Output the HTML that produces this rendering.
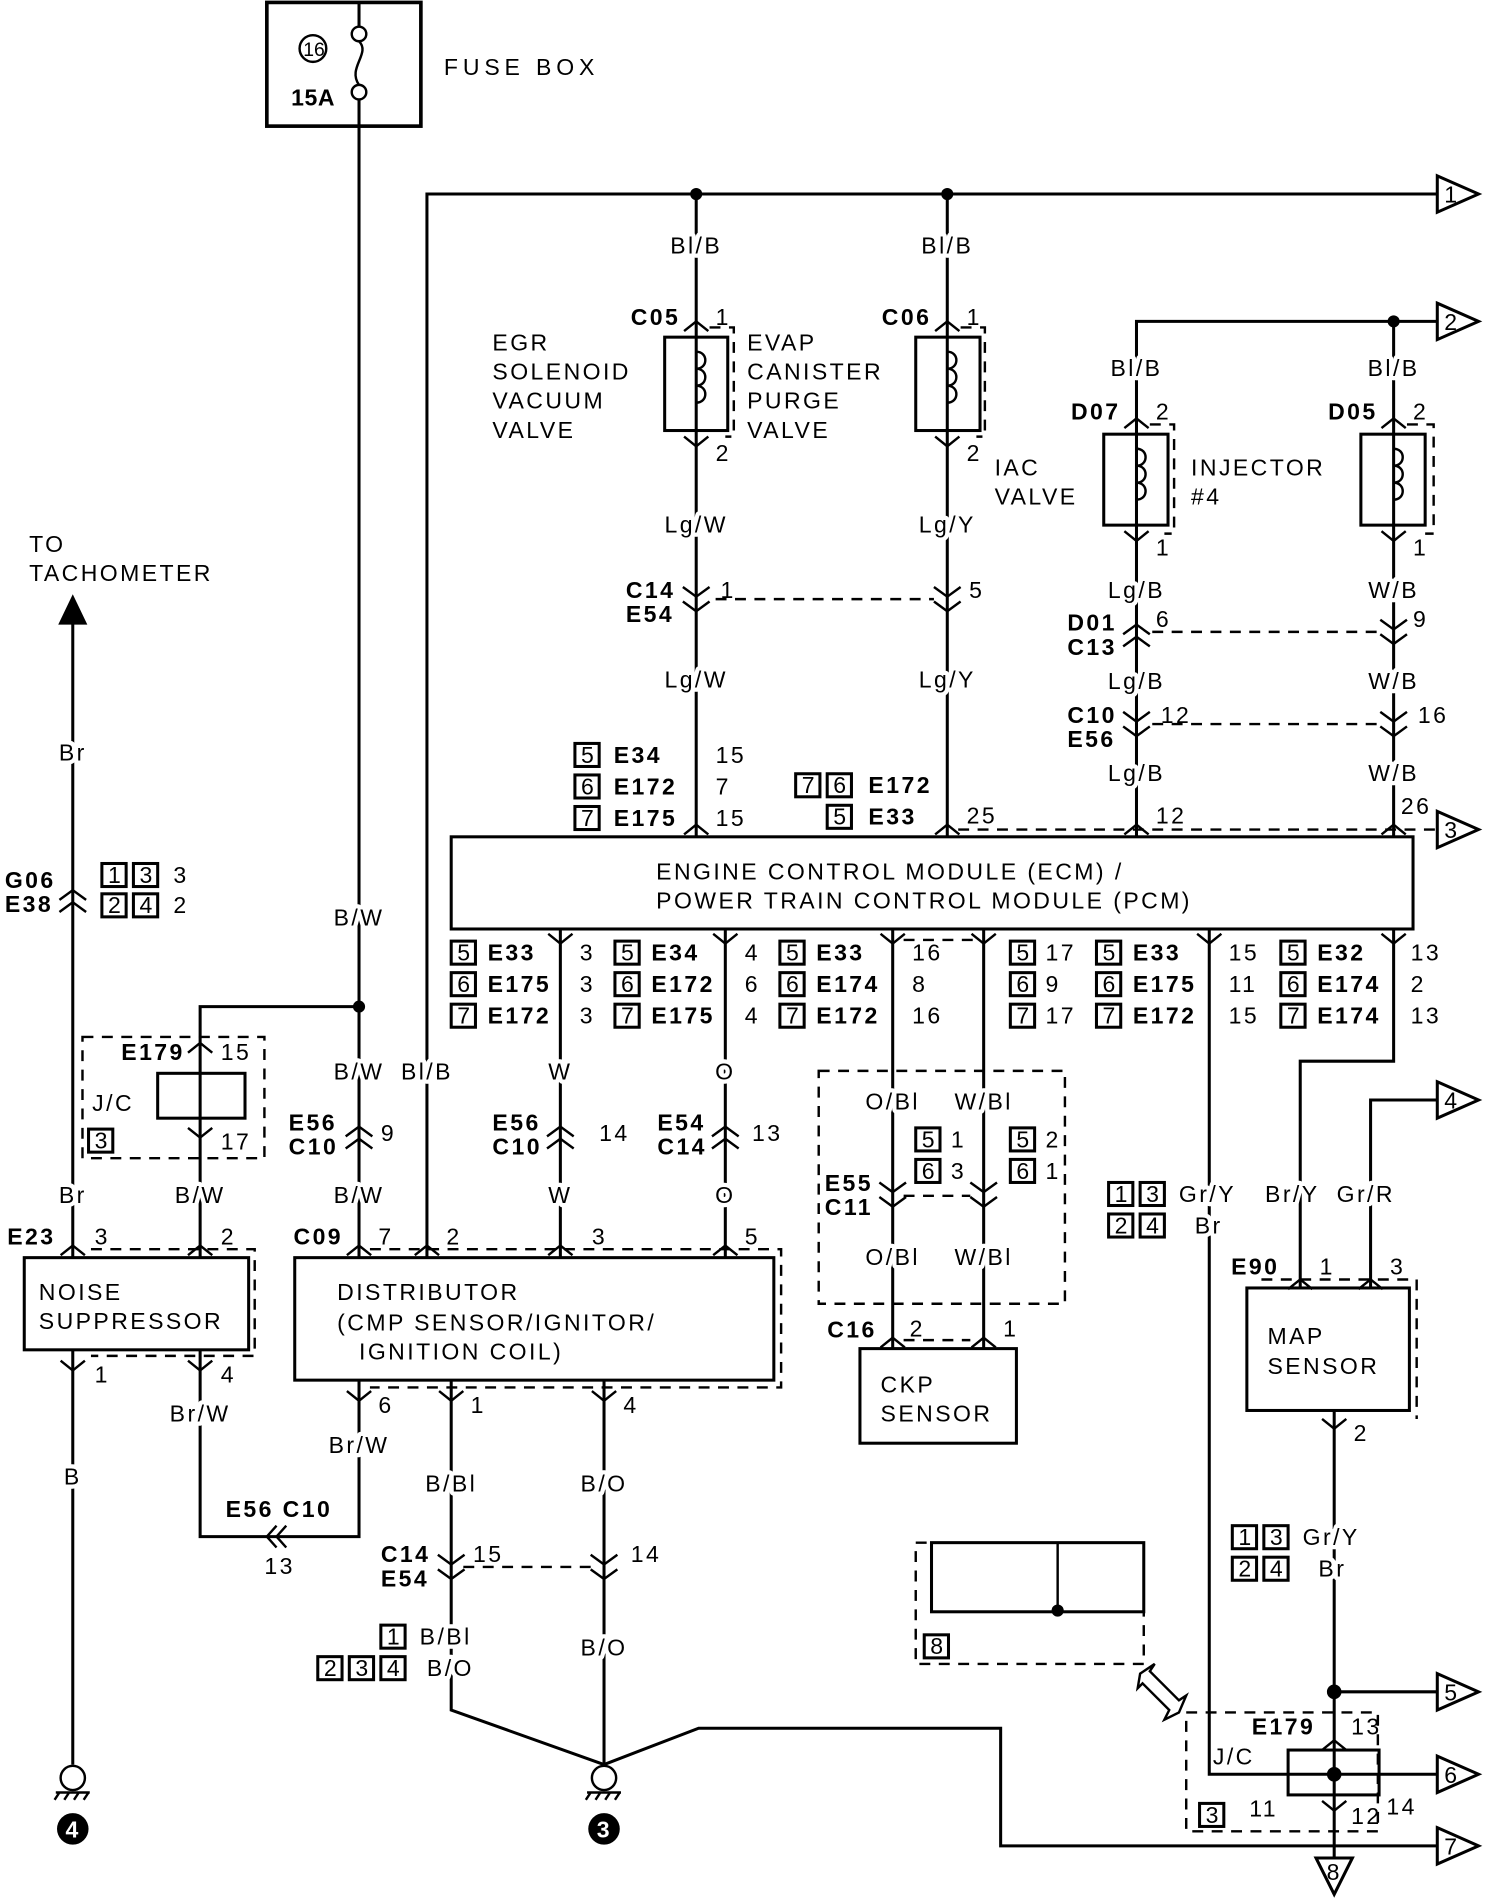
<!DOCTYPE html>
<html><head><meta charset="utf-8"><style>
html,body{margin:0;padding:0;background:#fff;width:1504px;height:1898px;overflow:hidden}
svg{display:block}
text{font-family:"Liberation Sans",sans-serif;font-size:19px;letter-spacing:2px;fill:#000}
.b{font-weight:bold;letter-spacing:0.5px}
.s{font-size:17px}
.w text{paint-order:stroke;stroke:#fff;stroke-width:7px;stroke-linejoin:round}
.bx rect{fill:none;stroke:#000;stroke-width:2.5}
</style></head><body>
<svg width="1504" height="1898" viewBox="0 0 1240 1565" preserveAspectRatio="none">
<defs>
<path id="up" d="M-10,8 L0,0 L10,8" fill="none" stroke="#000" stroke-width="2"/>
<path id="dn" d="M-10,-8 L0,0 L10,-8" fill="none" stroke="#000" stroke-width="2"/>
<g id="dd"><path d="M-11,-10 L0,-2 L11,-10 M-11,2 L0,10 L11,2" fill="none" stroke="#000" stroke-width="2"/></g>
<g id="uu"><path d="M-11,2 L0,-6 L11,2 M-11,12 L0,4 L11,12" fill="none" stroke="#000" stroke-width="2"/></g>
<g id="arR"><path d="M0,-15 L34,0 L0,15 Z" fill="#fff" stroke="#000" stroke-width="2.5"/></g>
</defs>
<g fill="none" stroke="#000" stroke-width="2.5">
<rect x="220" y="2" width="127" height="102" stroke-width="3"/>
<line x1="296" y1="2" x2="296" y2="22"/>
<circle cx="296" cy="28" r="6" stroke-width="2"/>
<circle cx="296" cy="76" r="6" stroke-width="2"/>
<path d="M296,34 C306,44 286,56 296,70" stroke-width="2"/>
<circle cx="258" cy="40" r="11" stroke-width="2"/>
<line x1="296" y1="82" x2="296" y2="1037"/>
<polyline points="352,1037 352,160 1185,160"/>
<line x1="574" y1="160" x2="574" y2="690"/>
<line x1="781" y1="160" x2="781" y2="690"/>
<rect x="548" y="278" width="52" height="77"/>
<rect x="755" y="278" width="53" height="77"/>
<path d="M574,290 c10,0 10,14 0,14 c10,0 10,14 0,14 c10,0 10,14 0,14" stroke-width="2"/>
<path d="M781,290 c10,0 10,14 0,14 c10,0 10,14 0,14 c10,0 10,14 0,14" stroke-width="2"/>
<polyline points="937,690 937,265 1185,265"/>
<line x1="1149" y1="265" x2="1149" y2="690"/>
<rect x="910" y="358" width="53" height="75"/>
<rect x="1122" y="358" width="53" height="75"/>
<path d="M937,370 c10,0 10,14 0,14 c10,0 10,14 0,14 c10,0 10,14 0,14" stroke-width="2"/>
<path d="M1149,370 c10,0 10,14 0,14 c10,0 10,14 0,14 c10,0 10,14 0,14" stroke-width="2"/>
<rect x="372" y="690" width="793" height="76"/>
<line x1="462" y1="766" x2="462" y2="1037"/>
<line x1="598" y1="766" x2="598" y2="1037"/>
<line x1="736" y1="766" x2="736" y2="1112"/>
<line x1="811" y1="766" x2="811" y2="1112"/>
<polyline points="997,766 997,1463 1185,1463"/>
<polyline points="1149,766 1149,875 1072,875 1072,1062"/>
<polyline points="1185,907 1130,907 1130,1062"/>
<rect x="1028" y="1062" width="134" height="101"/>
<line x1="1100" y1="1163" x2="1100" y2="1532"/>
<line x1="1100" y1="1395" x2="1185" y2="1395"/>
<rect x="1062" y="1443" width="75" height="37"/>
<rect x="709" y="1112" width="129" height="78"/>
<line x1="60" y1="512" x2="60" y2="1037"/>
<polyline points="165,1037 165,830 296,830"/>
<rect x="130" y="885" width="72" height="37"/>
<rect x="20" y="1037" width="185" height="76"/>
<line x1="60" y1="1113" x2="60" y2="1455"/>
<polyline points="165,1113 165,1267 296,1267 296,1138"/>
<rect x="243" y="1037" width="395" height="101"/>
<polyline points="372,1138 372,1410 498,1455"/>
<line x1="498" y1="1138" x2="498" y2="1455"/>
<polyline points="498,1455 576,1425 825,1425 825,1522 1185,1522"/>
<circle cx="60" cy="1466" r="10" stroke-width="2"/>
<circle cx="498" cy="1466" r="10" stroke-width="2"/>
<path d="M46,1478 L74,1478 M49,1478 l-4,6 M57,1478 l-4,6 M65,1478 l-4,6 M73,1478 l-4,6" stroke-width="2"/>
<path d="M484,1478 L512,1478 M487,1478 l-4,6 M495,1478 l-4,6 M503,1478 l-4,6 M511,1478 l-4,6" stroke-width="2"/>
<rect x="768" y="1272" width="175" height="57"/>
<line x1="872" y1="1272" x2="872" y2="1329" stroke-width="2"/>
<path d="M940,1380 L952,1372 L948,1378 L972,1402 L978,1398 L972,1412 L960,1418 L964,1410 L942,1388 L938,1392 Z" stroke-width="2" fill="#fff"/>
</g>
<g fill="none" stroke="#000" stroke-width="2" stroke-dasharray="9,7">
<line x1="590" y1="494" x2="770" y2="494"/>
<line x1="950" y1="521" x2="1138" y2="521"/>
<line x1="950" y1="597" x2="1138" y2="597"/>
<line x1="790" y1="684" x2="1185" y2="684"/>
<polyline points="585,270 605,270 605,360 598,360"/>
<polyline points="792,270 812,270 812,360 805,360"/>
<polyline points="948,350 968,350 968,440 960,440"/>
<polyline points="1160,350 1182,350 1182,440 1175,440"/>
<rect x="68" y="855" width="150" height="100"/>
<polyline points="75,1030 210,1030 210,1118 75,1118"/>
<polyline points="305,1030 644,1030 644,1144 305,1144"/>
<rect x="675" y="883" width="203" height="192"/>
<line x1="745" y1="986" x2="800" y2="986"/>
<line x1="745" y1="1105" x2="800" y2="1105"/>
<polyline points="1040,1055 1168,1055 1168,1170"/>
<rect x="978" y="1412" width="158" height="98"/>
<rect x="755" y="1272" width="188" height="100"/>
<line x1="382" y1="1292" x2="490" y2="1292"/>
<line x1="745" y1="775" x2="805" y2="775"/>
</g>
<g fill="#000">
<circle cx="574" cy="160" r="5"/><circle cx="781" cy="160" r="5"/>
<circle cx="1149" cy="265" r="5"/><circle cx="296" cy="830" r="5"/>
<circle cx="872" cy="1328" r="5"/><circle cx="1100" cy="1395" r="6"/><circle cx="1100" cy="1463" r="6"/>
<path d="M60,490 L48,515 L72,515 Z"/>
</g>
<use href="#up" x="574" y="265"/><use href="#up" x="781" y="265"/>
<use href="#dn" x="574" y="368"/><use href="#dn" x="781" y="368"/>
<use href="#up" x="937" y="345"/><use href="#up" x="1149" y="345"/>
<use href="#dn" x="937" y="446"/><use href="#dn" x="1149" y="446"/>
<use href="#dd" x="574" y="494"/><use href="#dd" x="781" y="494"/>
<use href="#uu" x="937" y="521"/><use href="#dd" x="1149" y="521"/>
<use href="#dd" x="937" y="597"/><use href="#dd" x="1149" y="597"/>
<use href="#up" x="574" y="680"/><use href="#up" x="781" y="680"/><use href="#up" x="937" y="680"/><use href="#up" x="1149" y="680"/>
<use href="#dn" x="462" y="778"/><use href="#dn" x="598" y="778"/><use href="#dn" x="736" y="778"/><use href="#dn" x="811" y="778"/><use href="#dn" x="997" y="778"/><use href="#dn" x="1149" y="778"/>
<use href="#uu" x="296" y="935"/><use href="#uu" x="462" y="935"/><use href="#uu" x="598" y="935"/>
<use href="#dd" x="736" y="985"/><use href="#dd" x="811" y="985"/>
<use href="#up" x="736" y="1103"/><use href="#up" x="811" y="1103"/>
<use href="#up" x="165" y="860"/><use href="#dn" x="165" y="938"/>
<use href="#up" x="60" y="1027"/><use href="#up" x="165" y="1027"/>
<use href="#up" x="296" y="1027"/><use href="#up" x="352" y="1027"/><use href="#up" x="462" y="1027"/><use href="#up" x="598" y="1027"/>
<use href="#uu" x="60" y="740"/>
<use href="#dn" x="60" y="1130"/><use href="#dn" x="165" y="1130"/>
<use href="#dn" x="296" y="1155"/><use href="#dn" x="372" y="1155"/><use href="#dn" x="498" y="1155"/>
<use href="#dd" x="372" y="1292"/><use href="#dd" x="498" y="1292"/>
<use href="#up" x="1072" y="1055"/><use href="#up" x="1130" y="1055"/><use href="#dn" x="1100" y="1178"/>
<use href="#up" x="1100" y="1435"/><use href="#dn" x="1100" y="1493"/>
<path d="M228,1258 L220,1267 L228,1276 M236,1258 L228,1267 L236,1276" fill="none" stroke="#000" stroke-width="2"/>
<use href="#arR" x="1185" y="160"/><use href="#arR" x="1185" y="265"/><use href="#arR" x="1185" y="684"/>
<use href="#arR" x="1185" y="907"/><use href="#arR" x="1185" y="1395"/><use href="#arR" x="1185" y="1463"/><use href="#arR" x="1185" y="1522"/>
<path d="M1085,1532 L1115,1532 L1100,1562 Z" fill="#fff" stroke="#000" stroke-width="2.5"/>
<g text-anchor="middle" class="s">
<text x="1197" y="167">1</text><text x="1197" y="272">2</text><text x="1197" y="691">3</text><text x="1197" y="914">4</text>
<text x="1197" y="1402">5</text><text x="1197" y="1470">6</text><text x="1197" y="1529">7</text><text x="1100" y="1550">8</text>
</g>
<circle cx="60" cy="1508" r="13" fill="#000"/><circle cx="498" cy="1508" r="13" fill="#000"/>
<text x="54" y="1515" style="fill:#fff;font-weight:bold;font-size:19px;letter-spacing:0">4</text>
<text x="492" y="1515" style="fill:#fff;font-weight:bold;font-size:19px;letter-spacing:0">3</text>
<text x="250" y="46" style="letter-spacing:0;font-size:16px">16</text>
<text x="240" y="87" class="b">15A</text>
<text x="366" y="62" style="letter-spacing:4px">FUSE BOX</text>
<g text-anchor="middle" class="w">
<text x="574" y="209">Bl/B</text><text x="781" y="209">Bl/B</text>
<text x="574" y="439">Lg/W</text><text x="781" y="439">Lg/Y</text>
<text x="574" y="567">Lg/W</text><text x="781" y="567">Lg/Y</text>
<text x="937" y="310">Bl/B</text><text x="1149" y="310">Bl/B</text>
<text x="937" y="493">Lg/B</text><text x="1149" y="493">W/B</text>
<text x="937" y="568">Lg/B</text><text x="1149" y="568">W/B</text>
<text x="937" y="644">Lg/B</text><text x="1149" y="644">W/B</text>
<text x="60" y="627">Br</text><text x="296" y="763">B/W</text>
<text x="296" y="890">B/W</text><text x="352" y="890">Bl/B</text><text x="462" y="890">W</text><text x="598" y="890">O</text>
<text x="296" y="992">B/W</text><text x="462" y="992">W</text><text x="598" y="992">O</text>
<text x="60" y="992">Br</text><text x="165" y="992">B/W</text>
<text x="60" y="1224">B</text><text x="165" y="1172">Br/W</text><text x="296" y="1198">Br/W</text>
<text x="372" y="1230">B/Bl</text><text x="498" y="1230">B/O</text><text x="498" y="1365">B/O</text>
<text x="736" y="915">O/Bl</text><text x="811" y="915">W/Bl</text>
<text x="736" y="1043">O/Bl</text><text x="811" y="1043">W/Bl</text>
</g>
<text x="406" y="289">EGR</text><text x="406" y="313">SOLENOID</text><text x="406" y="337">VACUUM</text><text x="406" y="361">VALVE</text>
<text x="616" y="289">EVAP</text><text x="616" y="313">CANISTER</text><text x="616" y="337">PURGE</text><text x="616" y="361">VALVE</text>
<text x="820" y="392">IAC</text><text x="820" y="416">VALVE</text>
<text x="982" y="392">INJECTOR</text><text x="982" y="416">#4</text>
<text x="24" y="455">TO</text><text x="24" y="479">TACHOMETER</text>
<text x="541" y="725">ENGINE CONTROL MODULE (ECM) /</text>
<text x="541" y="749">POWER TRAIN CONTROL MODULE (PCM)</text>
<text x="32" y="1072">NOISE</text><text x="32" y="1096">SUPPRESSOR</text>
<text x="278" y="1072">DISTRIBUTOR</text><text x="278" y="1097">(CMP SENSOR/IGNITOR/</text><text x="296" y="1121">IGNITION COIL)</text>
<text x="726" y="1148">CKP</text><text x="726" y="1172">SENSOR</text>
<text x="1045" y="1108">MAP</text><text x="1045" y="1133">SENSOR</text>
<text x="76" y="916">J/C</text><text x="1000" y="1455">J/C</text>
<g class="b">
<text x="520" y="268">C05</text><text x="727" y="268">C06</text>
<text x="883" y="346">D07</text><text x="1095" y="346">D05</text>
<text x="516" y="493">C14</text><text x="516" y="513">E54</text>
<text x="880" y="520">D01</text><text x="880" y="540">C13</text>
<text x="880" y="596">C10</text><text x="880" y="616">E56</text>
<text x="4" y="732">G06</text><text x="4" y="752">E38</text>
<text x="100" y="874">E179</text>
<text x="238" y="932">E56</text><text x="238" y="952">C10</text>
<text x="406" y="932">E56</text><text x="406" y="952">C10</text>
<text x="542" y="932">E54</text><text x="542" y="952">C14</text>
<text x="680" y="982">E55</text><text x="680" y="1002">C11</text>
<text x="6" y="1026">E23</text><text x="242" y="1026">C09</text>
<text x="682" y="1103">C16</text><text x="1015" y="1051">E90</text>
<text x="186" y="1251">E56 C10</text>
<text x="314" y="1288">C14</text><text x="314" y="1308">E54</text>
<text x="1032" y="1430">E179</text>
<text x="506" y="629">E34</text><text x="506" y="655">E172</text><text x="506" y="681">E175</text>
<text x="716" y="654">E172</text><text x="716" y="680">E33</text>
<text x="402" y="792">E33</text><text x="402" y="818">E175</text><text x="402" y="844">E172</text>
<text x="537" y="792">E34</text><text x="537" y="818">E172</text><text x="537" y="844">E175</text>
<text x="673" y="792">E33</text><text x="673" y="818">E174</text><text x="673" y="844">E172</text>
<text x="934" y="792">E33</text><text x="934" y="818">E175</text><text x="934" y="844">E172</text>
<text x="1086" y="792">E32</text><text x="1086" y="818">E174</text><text x="1086" y="844">E174</text>
</g>
<g class="s">
<text x="590" y="268">1</text><text x="797" y="268">1</text><text x="590" y="380">2</text><text x="797" y="380">2</text>
<text x="953" y="346">2</text><text x="1165" y="346">2</text><text x="953" y="458">1</text><text x="1165" y="458">1</text>
<text x="594" y="493">1</text><text x="799" y="493">5</text><text x="953" y="517">6</text><text x="1165" y="517">9</text>
<text x="957" y="596">12</text><text x="1169" y="596">16</text>
<text x="590" y="629">15</text><text x="590" y="655">7</text><text x="590" y="681">15</text>
<text x="797" y="679">25</text><text x="953" y="679">12</text><text x="1155" y="671">26</text>
<text x="478" y="792">3</text><text x="478" y="818">3</text><text x="478" y="844">3</text>
<text x="614" y="792">4</text><text x="614" y="818">6</text><text x="614" y="844">4</text>
<text x="752" y="792">16</text><text x="752" y="818">8</text><text x="752" y="844">16</text>
<text x="862" y="792">17</text><text x="862" y="818">9</text><text x="862" y="844">17</text>
<text x="1013" y="792">15</text><text x="1013" y="818">11</text><text x="1013" y="844">15</text>
<text x="1163" y="792">13</text><text x="1163" y="818">2</text><text x="1163" y="844">13</text>
<text x="143" y="728">3</text><text x="143" y="753">2</text>
<text x="182" y="874">15</text><text x="182" y="948">17</text>
<text x="314" y="941">9</text><text x="494" y="941">14</text><text x="620" y="941">13</text>
<text x="78" y="1026">3</text><text x="182" y="1026">2</text>
<text x="312" y="1026">7</text><text x="368" y="1026">2</text><text x="488" y="1026">3</text><text x="614" y="1026">5</text>
<text x="78" y="1140">1</text><text x="182" y="1140">4</text>
<text x="312" y="1165">6</text><text x="388" y="1165">1</text><text x="514" y="1165">4</text>
<text x="218" y="1298">13</text><text x="390" y="1288">15</text><text x="520" y="1288">14</text>
<text x="784" y="946">1</text><text x="784" y="972">3</text><text x="862" y="946">2</text><text x="862" y="972">1</text>
<text x="750" y="1102">2</text><text x="827" y="1102">1</text>
<text x="1088" y="1051">1</text><text x="1146" y="1051">3</text><text x="1116" y="1188">2</text>
<text x="1114" y="1430">13</text><text x="1030" y="1498">11</text><text x="1114" y="1504">12</text><text x="1143" y="1496">14</text>
</g>
<g class="bx">
<rect x="474" y="613" width="20" height="19"/><rect x="474" y="639" width="20" height="19"/><rect x="474" y="665" width="20" height="19"/>
<rect x="656" y="638" width="20" height="19"/><rect x="682" y="638" width="20" height="19"/><rect x="682" y="664" width="20" height="19"/>
<rect x="84" y="712" width="20" height="19"/><rect x="110" y="712" width="20" height="19"/><rect x="84" y="737" width="20" height="19"/><rect x="110" y="737" width="20" height="19"/>
<rect x="372" y="776" width="20" height="19"/><rect x="372" y="802" width="20" height="19"/><rect x="372" y="828" width="20" height="19"/>
<rect x="507" y="776" width="20" height="19"/><rect x="507" y="802" width="20" height="19"/><rect x="507" y="828" width="20" height="19"/>
<rect x="643" y="776" width="20" height="19"/><rect x="643" y="802" width="20" height="19"/><rect x="643" y="828" width="20" height="19"/>
<rect x="833" y="776" width="20" height="19"/><rect x="833" y="802" width="20" height="19"/><rect x="833" y="828" width="20" height="19"/>
<rect x="904" y="776" width="20" height="19"/><rect x="904" y="802" width="20" height="19"/><rect x="904" y="828" width="20" height="19"/>
<rect x="1056" y="776" width="20" height="19"/><rect x="1056" y="802" width="20" height="19"/><rect x="1056" y="828" width="20" height="19"/>
<rect x="73" y="931" width="20" height="19"/>
<rect x="755" y="930" width="20" height="19"/><rect x="755" y="956" width="20" height="19"/>
<rect x="833" y="930" width="20" height="19"/><rect x="833" y="956" width="20" height="19"/>
<rect x="914" y="975" width="20" height="19"/><rect x="940" y="975" width="20" height="19"/><rect x="914" y="1001" width="20" height="19"/><rect x="940" y="1001" width="20" height="19"/>
<rect x="1016" y="1258" width="20" height="19"/><rect x="1042" y="1258" width="20" height="19"/><rect x="1016" y="1284" width="20" height="19"/><rect x="1042" y="1284" width="20" height="19"/>
<rect x="314" y="1340" width="20" height="19"/><rect x="262" y="1366" width="20" height="19"/><rect x="288" y="1366" width="20" height="19"/><rect x="314" y="1366" width="20" height="19"/>
<rect x="762" y="1348" width="20" height="19"/><rect x="989" y="1487" width="20" height="19"/>
</g>
<g class="s" style="letter-spacing:0">
<text x="479" y="629">5</text><text x="479" y="655">6</text><text x="479" y="681">7</text>
<text x="661" y="654">7</text><text x="687" y="654">6</text><text x="687" y="680">5</text>
<text x="89" y="728">1</text><text x="115" y="728">3</text><text x="89" y="753">2</text><text x="115" y="753">4</text>
<text x="377" y="792">5</text><text x="377" y="818">6</text><text x="377" y="844">7</text>
<text x="512" y="792">5</text><text x="512" y="818">6</text><text x="512" y="844">7</text>
<text x="648" y="792">5</text><text x="648" y="818">6</text><text x="648" y="844">7</text>
<text x="838" y="792">5</text><text x="838" y="818">6</text><text x="838" y="844">7</text>
<text x="909" y="792">5</text><text x="909" y="818">6</text><text x="909" y="844">7</text>
<text x="1061" y="792">5</text><text x="1061" y="818">6</text><text x="1061" y="844">7</text>
<text x="78" y="947">3</text>
<text x="760" y="946">5</text><text x="760" y="972">6</text><text x="838" y="946">5</text><text x="838" y="972">6</text>
<text x="919" y="991">1</text><text x="945" y="991">3</text><text x="919" y="1017">2</text><text x="945" y="1017">4</text>
<text x="1021" y="1274">1</text><text x="1047" y="1274">3</text><text x="1021" y="1300">2</text><text x="1047" y="1300">4</text>
<text x="319" y="1356">1</text><text x="267" y="1382">2</text><text x="293" y="1382">3</text><text x="319" y="1382">4</text>
<text x="767" y="1364">8</text><text x="994" y="1503">3</text>
</g>
<g class="w">
<text x="346" y="1356">B/Bl</text><text x="352" y="1382">B/O</text>
<text x="972" y="991">Gr/Y</text><text x="985" y="1017">Br</text>
<text x="1043" y="991">Br/Y</text><text x="1102" y="991">Gr/R</text>
<text x="1074" y="1274">Gr/Y</text><text x="1087" y="1300">Br</text>
</g>
</svg>
</body></html>
